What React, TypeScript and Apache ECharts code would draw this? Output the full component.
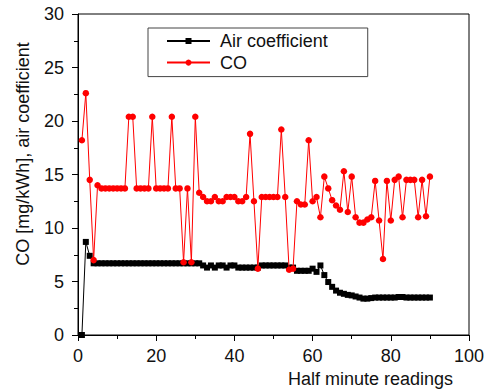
import React, { useEffect, useRef } from "react";
import * as echarts from "echarts";

const readings = [
  1, 2, 3, 4, 5, 6, 7, 8, 9, 10, 11, 12, 13, 14, 15, 16, 17, 18, 19, 20,
  21, 22, 23, 24, 25, 26, 27, 28, 29, 30, 31, 32, 33, 34, 35, 36, 37, 38, 39, 40,
  41, 42, 43, 44, 45, 46, 47, 48, 49, 50, 51, 52, 53, 54, 55, 56, 57, 58, 59, 60,
  61, 62, 63, 64, 65, 66, 67, 68, 69, 70, 71, 72, 73, 74, 75, 76, 77, 78, 79, 80,
  81, 82, 83, 84, 85, 86, 87, 88, 89, 90,
];

const airCoefficient = [
  0, 8.7, 7.4, 6.7, 6.7, 6.7, 6.7, 6.7, 6.7, 6.7, 6.7, 6.7, 6.7, 6.7, 6.7, 6.7, 6.7, 6.7, 6.7, 6.7,
  6.7, 6.7, 6.7, 6.7, 6.7, 6.7, 6.7, 6.7, 6.7, 6.7, 6.7, 6.5, 6.3, 6.5, 6.3, 6.5, 6.5, 6.3, 6.5, 6.5,
  6.3, 6.3, 6.3, 6.3, 6.3, 6.3, 6.5, 6.5, 6.5, 6.5, 6.5, 6.5, 6.5, 6.3, 6.3, 6.0, 6.0, 6.0, 6.0, 6.2,
  5.9, 6.5, 5.6, 4.95, 4.5, 4.15, 3.95, 3.85, 3.75, 3.7, 3.6, 3.5, 3.4, 3.4, 3.45, 3.5, 3.5, 3.5, 3.5, 3.5,
  3.5, 3.55, 3.55, 3.5, 3.5, 3.5, 3.5, 3.5, 3.5, 3.5,
];

const coValues = [
  18.2, 22.6, 14.5, 7.0, 14.0, 13.7, 13.7, 13.7, 13.7, 13.7, 13.7, 13.7, 20.4, 20.4, 13.7, 13.7, 13.7, 13.7, 20.4, 13.7,
  13.7, 13.7, 13.7, 20.4, 13.7, 13.7, 6.8, 13.7, 6.8, 20.4, 13.3, 12.9, 12.5, 12.5, 12.9, 12.5, 12.5, 12.9, 12.9, 12.9,
  12.5, 12.5, 12.9, 18.8, 12.5, 6.2, 12.9, 12.9, 12.9, 12.9, 12.9, 19.2, 12.9, 6.1, 6.2, 12.5, 12.2, 12.2, 18.2, 12.5,
  12.9, 11.0, 14.8, 13.7, 12.6, 12.1, 11.7, 15.3, 11.5, 14.8, 11.0, 10.5, 10.5, 10.8, 11.0, 14.4, 10.7, 7.1, 14.4, 10.7,
  14.5, 14.8, 11.0, 14.5, 14.5, 14.5, 11.0, 14.5, 11.1, 14.8,
];

const seriesNames = ["Air coefficient", "CO"];
const xAxisTitle = "Half minute readings";
const yAxisTitle = "CO [mg/kWh], air coefficient";

const FONT = "'Liberation Sans', Arial, Helvetica, sans-serif";

export default function App() {
  const ref = useRef<HTMLDivElement>(null);

  useEffect(() => {
    if (!ref.current) return;
    const chart = echarts.init(ref.current, undefined, { renderer: "svg" });
    const airData = readings.map((x, i) => [x, airCoefficient[i]]);
    const coData = readings.map((x, i) => [x, coValues[i]]);

    const axisCommon = {
      axisLine: { show: true, lineStyle: { color: "#000", width: 1 } },
      axisTick: { show: true, inside: false, length: 6, lineStyle: { color: "#000", width: 1 } },
      minorTick: { show: true, splitNumber: 2, length: 4, lineStyle: { color: "#000", width: 1 } },
      splitLine: { show: false },
      minorSplitLine: { show: false },
      axisLabel: { color: "#111", fontSize: 18, fontFamily: FONT },
    };

    chart.setOption({
      animation: false,
      backgroundColor: "#fff",
      textStyle: { fontFamily: FONT },
      grid: {
        left: 78,
        right: 19,
        top: 14,
        bottom: 56,
        show: true,
        borderColor: "#000",
        borderWidth: 1,
        backgroundColor: "transparent",
      },
      xAxis: {
        type: "value",
        min: 0,
        max: 100,
        interval: 20,
        ...axisCommon,
        axisLabel: { ...axisCommon.axisLabel, margin: 12 },
      },
      yAxis: {
        type: "value",
        min: 0,
        max: 30,
        interval: 5,
        ...axisCommon,
        axisLabel: { ...axisCommon.axisLabel, margin: 14 },
      },
      legend: {
        orient: "vertical",
        left: 148,
        top: 28,
        padding: [4, 40, 5, 18],
        itemGap: 3.6,
        itemWidth: 43,
        itemHeight: 7.5,
        borderColor: "#444",
        borderWidth: 1,
        backgroundColor: "#fff",
        data: seriesNames,
        textStyle: { color: "#111", fontSize: 18, fontFamily: FONT, padding: [0, 0, 0, 5] },
      },
      graphic: [
        {
          type: "text",
          right: 35,
          top: 370,
          style: {
            text: xAxisTitle,
            fill: "#111",
            font: `18px ${FONT}`,
          },
        },
        {
          type: "text",
          x: 23,
          y: 154,
          rotation: Math.PI / 2,
          style: {
            text: yAxisTitle,
            fill: "#111",
            font: `18px ${FONT}`,
            align: "center",
            verticalAlign: "middle",
          },
        },
      ],
      series: [
        {
          name: seriesNames[0],
          type: "line",
          data: airData,
          symbol: "rect",
          symbolSize: 6,
          showAllSymbol: true,
          color: "#000",
          lineStyle: { color: "#000", width: 1 },
          itemStyle: { color: "#000" },
          z: 2,
        },
        {
          name: seriesNames[1],
          type: "line",
          data: coData,
          symbol: "circle",
          symbolSize: 6.5,
          showAllSymbol: true,
          color: "#ff0000",
          lineStyle: { color: "#ff0000", width: 1 },
          itemStyle: { color: "#ff0000" },
          z: 3,
        },
      ],
    });

    return () => chart.dispose();
  }, []);

  return (
    <div
      ref={ref}
      style={{ position: "fixed", left: 0, top: 0, width: 488, height: 391, background: "#fff" }}
    />
  );
}
